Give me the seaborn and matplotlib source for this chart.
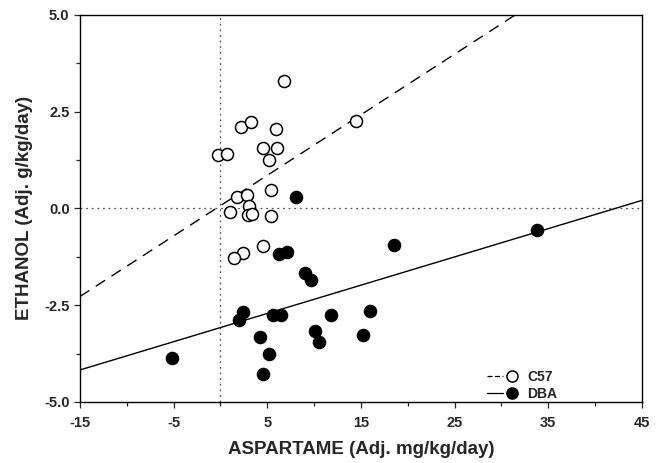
import numpy as np
import pandas as pd
import seaborn as sns
import matplotlib.pyplot as plt
from matplotlib.lines import Line2D
from matplotlib.legend_handler import HandlerTuple
from matplotlib.ticker import MultipleLocator

# C57 (circulos abertos)
c57_x = [6.74, 2.19, 3.22, 5.92, -0.23, 0.66, 4.50, 6.0, 5.14, 14.43,
         5.39, 1.73, 2.86, 3.08, 0.98, 2.9, 3.36, 5.36, 4.5, 2.43, 1.44]
c57_y = [3.29, 2.09, 2.23, 2.05, 1.38, 1.40, 1.56, 1.56, 1.26, 2.26,
         0.47, 0.29, 0.34, 0.07, -0.09, -0.17, -0.14, -0.21, -0.97, -1.16, -1.29]

# DBA (circulos cheios)
dba_x = [8.02, 6.2, 7.1, 9.02, 9.62, 18.5, 33.85, 2.43, 2.0, 5.57,
         6.46, 11.83, 16.0, 4.22, 10.1, 10.5, 15.2, 5.2, 4.57, -5.2]
dba_y = [0.29, -1.19, -1.14, -1.68, -1.85, -0.94, -0.57, -2.69, -2.88, -2.75,
         -2.75, -2.75, -2.66, -3.33, -3.16, -3.45, -3.27, -3.76, -4.28, -3.87]

# retas de regressao (intercepto, inclinacao)
grupos = ['C57', 'DBA']
interceptos = [0.07, -3.08]
inclinacoes = [0.1565, 0.073]
estilos = ['--', '-']

df = pd.DataFrame({
    'aspartame': c57_x + dba_x,
    'etanol': c57_y + dba_y,
    'cepa': ['C57'] * len(c57_x) + ['DBA'] * len(dba_x),
})

sns.set_style('ticks')
plt.rcParams['font.family'] = ['Liberation Sans', 'DejaVu Sans']
plt.rcParams['font.weight'] = 'bold'
plt.rcParams['axes.unicode_minus'] = False

fig = plt.figure(figsize=(6.61, 4.63), dpi=100)
ax = fig.add_axes([0.121, 0.132, 0.850, 0.836])

# linhas de referencia pontilhadas
ax.axhline(0, color='#555555', linestyle=(0, (1.5, 3)), linewidth=0.9, zorder=1)
ax.axvline(0, color='#555555', linestyle=(0, (1.5, 3)), linewidth=0.9, zorder=1)

for g, b, m, ls in zip(grupos, interceptos, inclinacoes, estilos):
    dashes = (0, (8, 5.5)) if ls == '--' else '-'
    ax.axline((0, b), slope=m, color='black', linestyle=dashes, linewidth=1.0, zorder=2)

sns.scatterplot(data=df[df['cepa'] == 'C57'], x='aspartame', y='etanol',
                facecolor='white', edgecolor='black', linewidth=1.1, s=75,
                ax=ax, zorder=3, legend=False)
sns.scatterplot(data=df[df['cepa'] == 'DBA'], x='aspartame', y='etanol',
                facecolor='black', edgecolor='black', linewidth=1.1, s=75,
                ax=ax, zorder=3, legend=False)

ax.set_xlim(-15, 45)
ax.set_ylim(-5, 5)
ax.set_xticks([-15, -5, 5, 15, 25, 35, 45])
ax.xaxis.set_minor_locator(MultipleLocator(5))
ax.set_yticks([-5, -2.5, 0, 2.5, 5])
ax.set_yticklabels(['-5.0', '-2.5', '0.0', '2.5', '5.0'])
ax.yaxis.set_minor_locator(MultipleLocator(1.25))
ax.tick_params(axis='both', which='both', direction='out', width=0.9, labelsize=10.5)
ax.tick_params(which='major', length=4)
ax.tick_params(which='minor', length=3)
ax.tick_params(axis='x', pad=6)

for lado in ['top', 'right', 'left', 'bottom']:
    ax.spines[lado].set_visible(True)
    ax.spines[lado].set_color('black')
    ax.spines[lado].set_linewidth(1.0)

ax.set_xlabel('ASPARTAME (Adj. mg/kg/day)', fontsize=13.5, fontweight='bold', labelpad=8)
ax.set_ylabel('ETHANOL (Adj. g/kg/day)', fontsize=13.5, fontweight='bold', labelpad=8)

# legenda: linha seguida do marcador
handles = []
for g, ls in zip(grupos, estilos):
    linha = Line2D([], [], color='black', linestyle=(0, (4, 2)) if ls == '--' else '-', linewidth=0.9)
    face = 'white' if g == 'C57' else 'black'
    marca = Line2D([], [], linestyle='none', marker='o', markersize=8,
                   markerfacecolor=face, markeredgecolor='black', markeredgewidth=1.1)
    handles.append((linha, marca))

ax.legend(handles, grupos, handler_map={tuple: HandlerTuple(ndivide=None, pad=0.1)},
          loc='lower right', bbox_to_anchor=(0.872, -0.03), frameon=False,
          fontsize=10, handlelength=2.4, labelspacing=0.2, handletextpad=0.5)

fig.savefig('out.png', dpi=100)
